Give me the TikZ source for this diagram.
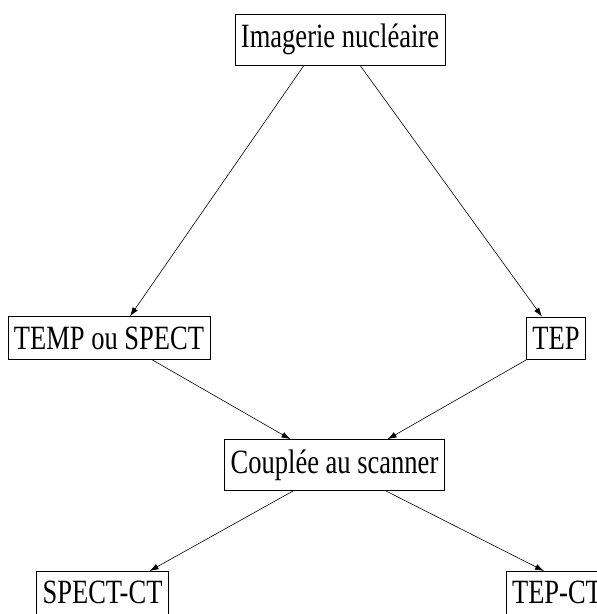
\documentclass[tikz,border=0pt]{standalone}
\usepackage{fontspec}
\setmainfont{Liberation Serif}[FakeStretch=0.78]
\usetikzlibrary{arrows.meta}
\begin{document}
\begin{tikzpicture}[x=1pt, y=-1pt, >={Latex[length=9pt,width=6pt]}, line width=0.6pt]
\tikzstyle{every node}=[draw, font=\fontsize{34}{40}\selectfont, inner xsep=6pt, inner ysep=10pt];
\useasboundingbox (0,0) rectangle (597,614);
\path (340,39.5) node (img) {Imagerie nucléaire};
\path (109,338) node (temp) {TEMP ou SPECT};
\path (556,338) node (tep) {TEP};
\path (334.5,465) node (scan) {Couplée au scanner};
\path (102.5,571) node[anchor=north] (spectct) {SPECT-CT};
\path (557,571) node[anchor=north] (tepct) {TEP-CT};
\draw[->] ([xshift=-36pt]img.south) -- ([xshift=21pt]temp.north);
\draw[->] ([xshift=20pt]img.south) -- ([xshift=-14pt]tep.north);
\draw[->] ([xshift=43pt]temp.south) -- ([xshift=-44pt]scan.north);
\draw[->] ([xshift=-29pt]tep.south) -- ([xshift=53pt]scan.north);
\draw[->] ([xshift=-41pt]scan.south) -- ([xshift=47pt]spectct.north);
\draw[->] ([xshift=51pt]scan.south) -- ([xshift=-13pt]tepct.north);
\end{tikzpicture}
\end{document}
